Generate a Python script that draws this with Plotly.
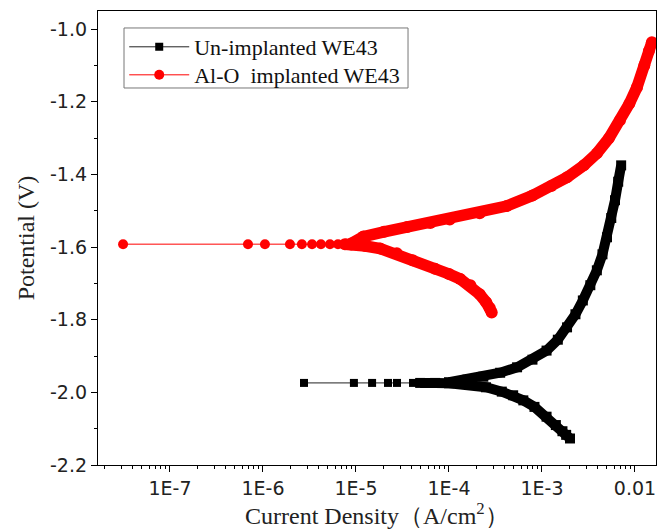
import plotly.graph_objects as go

# ---------------- data ----------------
# Un-implanted WE43
black_ecorr_i = [2.76e-6, 9.5e-6, 1.49e-5, 2.21e-5, 2.76e-5, 4.10e-5]
black_ecorr_E = [-1.974, -1.974, -1.974, -1.974, -1.974, -1.974]

black_cath_i = [2.0e-3, 1.82e-3, 1.66e-3, 1.41e-3, 1.12e-3, 8.3e-4, 6.3e-4, 4.9e-4,
                3.7e-4, 2.5e-4, 1.55e-4, 1.0e-4, 7.1e-5, 4.9e-5]
black_cath_E = [-2.127, -2.117, -2.107, -2.090, -2.067, -2.040, -2.022, -2.008,
                -1.998, -1.986, -1.977, -1.975, -1.974, -1.974]

black_anod_i = [1.0e-4, 1.58e-4, 2.34e-4, 3.55e-4, 5.4e-4, 7.9e-4, 1.12e-3, 1.48e-3,
                1.86e-3, 2.29e-3, 2.75e-3, 3.31e-3, 3.89e-3, 4.47e-3, 5.0e-3, 5.56e-3,
                6.1e-3, 6.6e-3, 7.1e-3]
black_anod_E = [-1.972, -1.965, -1.957, -1.946, -1.931, -1.910, -1.885, -1.855,
                -1.821, -1.785, -1.747, -1.705, -1.664, -1.620, -1.573, -1.520,
                -1.471, -1.420, -1.375]

# Al-O implanted WE43
red_ecorr_i = [3.13e-8, 6.9e-7, 1.05e-6, 1.95e-6, 2.62e-6, 3.37e-6, 4.2e-6, 5.25e-6, 6.4e-6]
red_ecorr_E = [-1.592, -1.592, -1.592, -1.592, -1.592, -1.592, -1.592, -1.592, -1.592]

red_cath_i = [2.88e-4, 2.75e-4, 2.51e-4, 2.14e-4, 1.70e-4, 1.32e-4, 1.0e-4, 7.1e-5,
              4.07e-5, 2.75e-5, 1.82e-5, 1.26e-5, 8.9e-6, 7.6e-6]
red_cath_E = [-1.780, -1.768, -1.752, -1.730, -1.705, -1.688, -1.674, -1.660,
              -1.636, -1.617, -1.604, -1.597, -1.593, -1.592]

red_anod_i = [8.9e-6, 1.20e-5, 2.0e-5, 3.55e-5, 6.3e-5, 1.02e-4, 2.14e-4, 4.17e-4,
              7.9e-4, 1.26e-3, 1.86e-3, 2.82e-3, 3.89e-3, 5.25e-3, 6.9e-3, 8.7e-3,
              1.05e-2, 1.26e-2, 1.41e-2, 1.52e-2]
red_anod_E = [-1.590, -1.571, -1.558, -1.545, -1.534, -1.524, -1.507, -1.487,
              -1.458, -1.432, -1.408, -1.375, -1.342, -1.300, -1.251, -1.205,
              -1.160, -1.100, -1.060, -1.036]

x_tickvals = [1e-7, 1e-6, 1e-5, 1e-4, 1e-3, 1e-2]
x_ticktext = ["1E-7", "1E-6", "1E-5", "1E-4", "1E-3", "0.01"]
y_tickvals = [-2.2, -2.0, -1.8, -1.6, -1.4, -1.2, -1.0]
y_ticktext = ["-2.2", "-2.0", "-1.8", "-1.6", "-1.4", "-1.2", "-1.0"]

x_title = "Current Density\uff08A/cm<sup>2</sup>\uff09"
y_title = "Potential (V)"
name_black = "Un-implanted WE43"
name_red = "Al-O\u00a0 implanted WE43"

BLACK = "#000000"
RED = "#ff0000"

fig = go.Figure()

# dense branches (thick bands of markers)
for xi, yi in [(black_cath_i, black_cath_E), (black_anod_i, black_anod_E)]:
    fig.add_trace(go.Scatter(x=xi, y=yi, mode="lines+markers", showlegend=False,
                             line=dict(color=BLACK, width=10),
                             marker=dict(symbol="square", size=10, color=BLACK)))
for xi, yi in [(red_cath_i, red_cath_E), (red_anod_i, red_anod_E)]:
    fig.add_trace(go.Scatter(x=xi, y=yi, mode="lines+markers", showlegend=False,
                             line=dict(color=RED, width=11.5),
                             marker=dict(symbol="circle", size=12, color=RED)))

# sparse points near Ecorr (also legend entries)
fig.add_trace(go.Scatter(x=black_ecorr_i, y=black_ecorr_E, mode="lines+markers",
                         name=name_black, legend="legend",
                         line=dict(color="#222222", width=1),
                         marker=dict(symbol="square", size=8, color=BLACK)))
fig.add_trace(go.Scatter(x=red_ecorr_i, y=red_ecorr_E, mode="lines+markers",
                         name=name_red, legend="legend2",
                         line=dict(color=RED, width=1),
                         marker=dict(symbol="circle", size=10, color=RED)))

tickfont = dict(family="DejaVu Sans", size=19, color="#222222")
titlefont = dict(family="Liberation Serif", size=24, color="#222222")
legfont = dict(family="Liberation Serif", size=22, color="#111111")

fig.update_layout(
    width=670, height=532,
    margin=dict(l=98, r=14, t=11, b=67),
    paper_bgcolor="white", plot_bgcolor="white",
    legend=dict(x=0.047, y=0.9207, xanchor="left", yanchor="middle",
                bgcolor="rgba(0,0,0,0)", borderwidth=0, font=legfont, itemwidth=60),
    legend2=dict(x=0.047, y=0.859, xanchor="left", yanchor="middle",
                 bgcolor="rgba(0,0,0,0)", borderwidth=0, font=legfont, itemwidth=60),
    shapes=[dict(type="rect", xref="paper", yref="paper",
                 x0=0.0466, x1=0.5556, y0=0.8304, y1=0.9626,
                 line=dict(color="#777777", width=1), fillcolor="rgba(0,0,0,0)",
                 layer="above")],
    annotations=[dict(text=x_title, xref="paper", yref="paper", x=0.5, y=-0.108,
                      xanchor="center", yanchor="middle", showarrow=False,
                      font=titlefont)],
    xaxis=dict(type="log", range=[-7.774, -1.774], automargin=False,
               tickmode="array", tickvals=x_tickvals, ticktext=x_ticktext,
               ticks="outside", ticklen=6, tickwidth=1, tickcolor=BLACK,
               showline=True, linecolor=BLACK, linewidth=1.2, mirror=True,
               showgrid=False, zeroline=False, tickfont=tickfont,
               minor=dict(ticks="outside", ticklen=3, tickwidth=1, tickcolor=BLACK,
                          dtick="D1", showgrid=False)),
    yaxis=dict(range=[-2.2, -0.95], automargin=False,
               tickmode="array", tickvals=y_tickvals, ticktext=y_ticktext,
               ticks="outside", ticklen=6, tickwidth=1, tickcolor=BLACK,
               showline=True, linecolor=BLACK, linewidth=1.2, mirror=True,
               showgrid=False, zeroline=False, tickfont=tickfont,
               minor=dict(ticks="outside", ticklen=3, tickwidth=1, tickcolor=BLACK,
                          dtick=0.1, tick0=-2.2, showgrid=False),
               title=dict(text=y_title, font=titlefont, standoff=8)),
)

fig.write_html("out.html")
